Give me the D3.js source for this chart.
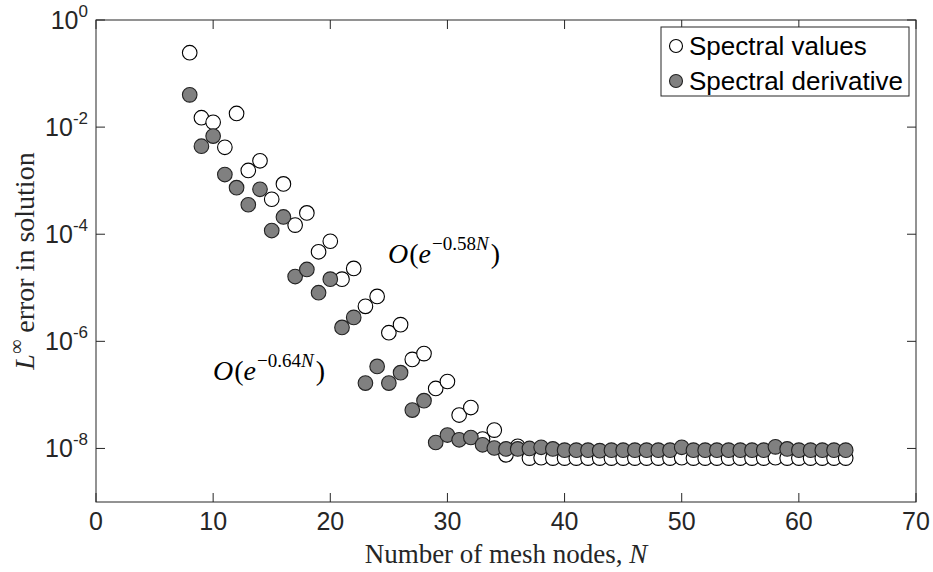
<!DOCTYPE html>
<html>
<head>
<meta charset="utf-8">
<script src="https://cdn.jsdelivr.net/npm/d3@7"></script>
<style>
  html, body { margin: 0; padding: 0; background: #fff; }
  svg { display: block; }
</style>
</head>
<body>
<script>
// ---- data ----
const nodes = [8,9,10,11,12,13,14,15,16,17,18,19,20,21,22,23,24,25,26,27,28,29,30,31,32,33,34,35,36,
  37,38,39,40,41,42,43,44,45,46,47,48,49,50,51,52,53,54,55,56,57,58,59,60,61,62,63,64];
const spectralValues = [2.45e-1,1.5e-2,1.23e-2,4.2e-3,1.8e-2,1.55e-3,2.35e-3,4.5e-4,8.7e-4,1.48e-4,2.5e-4,
  4.7e-5,7.4e-5,1.45e-5,2.3e-5,4.5e-6,6.9e-6,1.45e-6,2.05e-6,4.6e-7,5.9e-7,1.32e-7,1.78e-7,4.2e-8,5.8e-8,
  1.5e-8,2.2e-8,7.6e-9,1.1e-8,
  6.6e-9,6.7e-9,6.6e-9,6.6e-9,6.6e-9,6.6e-9,6.6e-9,6.6e-9,6.6e-9,6.6e-9,6.6e-9,6.6e-9,6.6e-9,6.7e-9,6.6e-9,
  6.6e-9,6.6e-9,6.6e-9,6.6e-9,6.6e-9,6.6e-9,6.7e-9,6.6e-9,6.6e-9,6.6e-9,6.6e-9,6.6e-9,6.6e-9];
const spectralDerivative = [4.0e-2,4.4e-3,6.8e-3,1.3e-3,7.4e-4,3.55e-4,6.9e-4,1.17e-4,2.1e-4,1.62e-5,2.2e-5,
  8.1e-6,1.45e-5,1.82e-6,2.8e-6,1.66e-7,3.4e-7,1.66e-7,2.6e-7,5.2e-8,7.8e-8,1.29e-8,1.78e-8,1.45e-8,1.6e-8,
  1.17e-8,1.02e-8,9.8e-9,9.8e-9,
  1.0e-8,1.05e-8,9.8e-9,9.3e-9,9.3e-9,9.3e-9,9.1e-9,9.3e-9,9.3e-9,9.3e-9,9.3e-9,9.3e-9,9.3e-9,1.05e-8,9.3e-9,
  9.3e-9,9.3e-9,9.3e-9,9.3e-9,9.3e-9,9.3e-9,1.07e-8,9.8e-9,9.3e-9,9.3e-9,9.3e-9,9.3e-9,9.3e-9];
const xTicks = [0,10,20,30,40,50,60,70];
const yTickExponents = [0,-2,-4,-6,-8];
const seriesNames = ["Spectral values","Spectral derivative"];
const xTitle = "Number of mesh nodes, ";
const yTitle = " error in solution";

// ---- layout ----
const W = 933, H = 572;
const L = 96, R = 916, T = 20, B = 502;
const axisColor = "#262626";
const sansFont = "'Liberation Sans', Arial, sans-serif";
const serifFont = "'Liberation Serif', 'Times New Roman', serif";

const svg = d3.select("body").append("svg").attr("width", W).attr("height", H);
const x = d3.scaleLinear().domain([0,70]).range([L,R]);
const y = d3.scaleLog().domain([1e-9,1]).range([B,T]);

// frame
svg.append("rect").attr("x",L).attr("y",T).attr("width",R-L).attr("height",B-T)
  .attr("fill","#fff").attr("stroke",axisColor).attr("stroke-width",1);

const tickLen = 9;
const g = svg.append("g");
xTicks.forEach(t => {
  g.append("line").attr("x1",x(t)).attr("x2",x(t)).attr("y1",B).attr("y2",B-tickLen).attr("stroke",axisColor);
  g.append("line").attr("x1",x(t)).attr("x2",x(t)).attr("y1",T).attr("y2",T+tickLen).attr("stroke",axisColor);
  g.append("text").attr("x",x(t)).attr("y",B+28).attr("text-anchor","middle")
    .attr("font-family",sansFont).attr("font-size",25).attr("fill",axisColor).text(t);
});
yTickExponents.forEach(e => {
  const v = Math.pow(10,e);
  g.append("line").attr("x1",L).attr("x2",L+tickLen).attr("y1",y(v)).attr("y2",y(v)).attr("stroke",axisColor);
  g.append("line").attr("x1",R).attr("x2",R-tickLen).attr("y1",y(v)).attr("y2",y(v)).attr("stroke",axisColor);
  const t = g.append("text").attr("x",L-8).attr("y",y(v)+9).attr("text-anchor","end")
    .attr("font-family",sansFont).attr("font-size",25).attr("fill",axisColor);
  t.append("tspan").text("10");
  t.append("tspan").attr("dy",-12).attr("font-size",17).text(String(e));
});

// axis titles
const xt = svg.append("text").attr("x",(L+R)/2).attr("y",563).attr("text-anchor","middle")
  .attr("font-family",serifFont).attr("font-size",27).attr("fill",axisColor);
xt.append("tspan").text(xTitle);
xt.append("tspan").attr("font-style","italic").text("N");

const yt = svg.append("text").attr("transform",`translate(34,${(T+B)/2}) rotate(-90)`)
  .attr("text-anchor","middle").attr("font-family",serifFont).attr("font-size",28).attr("fill",axisColor);
yt.append("tspan").attr("font-style","italic").text("L");
yt.append("tspan").attr("dy",-11).attr("font-size",20).text("\u221E");
yt.append("tspan").attr("dy",11).text(yTitle);

// data
const openData = nodes.map((n,i)=>({n, v: spectralValues[i]}));
const fillData = nodes.map((n,i)=>({n, v: spectralDerivative[i]}));
const rad = 7.3;
svg.append("g").selectAll("circle").data(openData).join("circle")
  .attr("cx",d=>x(d.n)).attr("cy",d=>y(d.v)).attr("r",rad)
  .attr("fill","#fff").attr("stroke","#000").attr("stroke-width",1.1);
svg.append("g").selectAll("circle").data(fillData).join("circle")
  .attr("cx",d=>x(d.n)).attr("cy",d=>y(d.v)).attr("r",rad)
  .attr("fill","#808080").attr("stroke","#222").attr("stroke-width",1.1);

// annotations
function annot(xp, yp, expo) {
  const t = svg.append("text").attr("x",xp).attr("y",yp)
    .attr("font-family",serifFont).attr("font-size",28).attr("fill","#000");
  t.append("tspan").attr("font-style","italic").text("O");
  t.append("tspan").attr("dx",1).text("(");
  t.append("tspan").attr("font-style","italic").text("e");
  t.append("tspan").attr("dy",-13).attr("dx",1).attr("font-size",19).text("\u2212" + expo);
  t.append("tspan").attr("font-size",19).attr("font-style","italic").text("N");
  t.append("tspan").attr("dy",13).attr("dx",2).text(")");
}
annot(388, 263, "0.58");
annot(213, 380, "0.64");

// legend
const lg = svg.append("g");
lg.append("rect").attr("x",661).attr("y",27).attr("width",248).attr("height",69)
  .attr("fill","#fff").attr("stroke",axisColor).attr("stroke-width",1);
const lrows = [46, 81];
lg.append("circle").attr("cx",676).attr("cy",lrows[0]).attr("r",6.5).attr("fill","#fff").attr("stroke","#000").attr("stroke-width",1.1);
lg.append("circle").attr("cx",676).attr("cy",lrows[1]).attr("r",6.5).attr("fill","#808080").attr("stroke","#222").attr("stroke-width",1.1);
seriesNames.forEach((s,i)=>{
  lg.append("text").attr("x",689).attr("y",lrows[i]+9).attr("font-family",sansFont)
    .attr("font-size",26).attr("fill","#000").text(s);
});
</script>
</body>
</html>
